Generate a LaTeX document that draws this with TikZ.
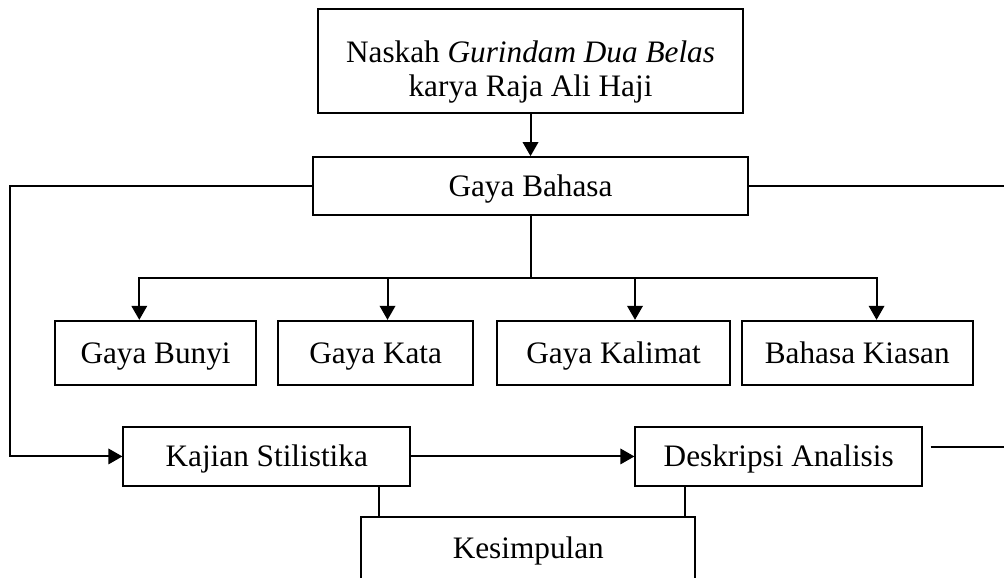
\documentclass[tikz,border=0pt]{standalone}
\usepackage{fontspec}
\setmainfont{Liberation Serif}
\usepackage{tikz}
\usetikzlibrary{arrows.meta}
\tikzstyle{kotak}=[rectangle,draw,line width=0.75pt,inner sep=0pt,text badly centered,minimum height=0.86cm,text height=8pt,text depth=0pt]
\tikzstyle{arrow}=[draw,line width=0.75pt,-{Triangle[length=0.19cm,width=0.21cm]}]
\tikzstyle{garis}=[draw,line width=0.75pt]

\begin{document}
\begin{tikzpicture}[node distance=1cm, font=\fontsize{12}{12}\selectfont]
		\useasboundingbox (-7.16,0.82) rectangle (6.39,-6.97);
		\node (naskah) [kotak, minimum width=5.74cm, minimum height=1.40cm, align=center, text height=28pt, text depth=0.5pt] {Naskah \textit{Gurindam Dua Belas}\\[1pt]karya Raja Ali Haji};
		\node (gaya) [kotak, below of=naskah, yshift=-0.69cm, minimum width=5.87cm, minimum height=0.78cm] {Gaya Bahasa};
		\node (bunyi) [kotak, below of=gaya, xshift=-5.06cm, yshift=-1.25cm, minimum width=2.71cm] {Gaya Bunyi};
		\node (kata) [kotak, right of=bunyi, xshift=1.97cm, minimum width=2.63cm] {Gaya Kata};
		\node (kalimat) [kotak, right of=kata, xshift=2.21cm, minimum width=3.15cm] {Gaya Kalimat};
		\node (kiasan) [kotak, right of=kalimat, xshift=2.29cm, minimum width=3.11cm] {Bahasa Kiasan};
		\node (kajian) [kotak, below of=bunyi, xshift=1.50cm, yshift=-0.40cm, minimum width=3.87cm, minimum height=0.80cm] {Kajian Stilistika};
		\node (deskripsi) [kotak, right of=kajian, xshift=5.91cm, minimum width=3.87cm, minimum height=0.79cm] {Deskripsi Analisis};
		\node (kesimpulan) [kotak, below of=kajian, xshift=3.53cm, yshift=-0.24cm, minimum width=4.51cm, minimum height=0.84cm] {Kesimpulan};
		\coordinate (tepi) at (6.39,0);
		
		\draw[arrow] (naskah) -- (gaya);
		\draw[garis] (gaya.south) -- ++(0,-0.84) coordinate (cabang);
		\draw[arrow] (cabang) -| ([xshift=-0.22cm]bunyi.north);
		\draw[arrow] (cabang) -| ([xshift=0.16cm]kata.north);
		\draw[arrow] (cabang) -| ([xshift=0.29cm]kalimat.north);
		\draw[arrow] (cabang) -| ([xshift=0.26cm]kiasan.north);
		\draw[arrow] (gaya.west) -- ++(-4.08,0) |- (kajian.west);
		\draw[garis] (gaya.east) -- (gaya.east -| tepi);
		\draw[arrow] (kajian) -- (deskripsi);
		\draw[garis] ([xshift=0.1cm,yshift=0.13cm]deskripsi.east) -- ([yshift=0.13cm]deskripsi.east -| tepi);
		\draw[garis] ([xshift=1.52cm]kajian.south) -- ([xshift=1.52cm]kajian.south |- kesimpulan.north);
		\draw[garis] ([xshift=-1.26cm]deskripsi.south) -- ([xshift=-1.26cm]deskripsi.south |- kesimpulan.north);
		
		\end{tikzpicture}
\end{document}
